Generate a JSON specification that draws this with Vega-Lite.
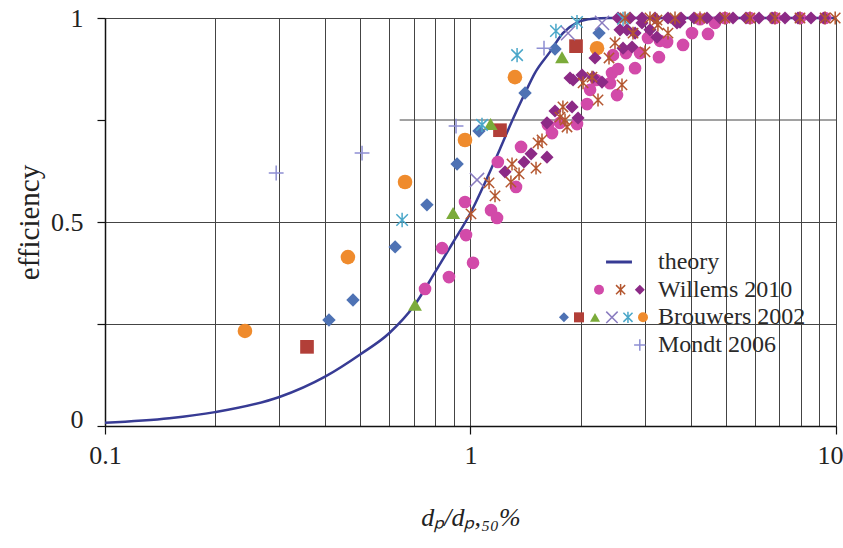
{
"$schema": "https://vega.github.io/schema/vega-lite/v6.json",
"width": 731, "height": 408,
"autosize": "none",
"padding": {"left": 105, "top": 18, "right": 7, "bottom": 122},
"background": "white",
"config": {"view": {"stroke": null}},
"datasets": {
"theory": [
{"x":0.1,"eff":0.008},{"x":0.15,"eff":0.019},{"x":0.2,"eff":0.034},{"x":0.3,"eff":0.071},{"x":0.4,"eff":0.121},{"x":0.5,"eff":0.176},{"x":0.6,"eff":0.228},{"x":0.7,"eff":0.294},{"x":0.8,"eff":0.377},{"x":0.9,"eff":0.453},{"x":1.0,"eff":0.522},{"x":1.1,"eff":0.6},{"x":1.2,"eff":0.676},{"x":1.3,"eff":0.748},{"x":1.41,"eff":0.816},{"x":1.5,"eff":0.865},{"x":1.65,"eff":0.917},{"x":1.79,"eff":0.963},{"x":1.95,"eff":0.988},{"x":2.16,"eff":0.998},{"x":2.4,"eff":1.0},{"x":3,"eff":1.0},{"x":10,"eff":1.0}
],
"gridrule": [{"x":0.64,"x2":10,"eff":0.75}],
"points": [
{"s":"B circle","x":0.2415,"eff":0.233},{"s":"B circle","x":0.462,"eff":0.414},{"s":"B circle","x":0.662,"eff":0.598},{"s":"B circle","x":0.966,"eff":0.701},{"s":"B circle","x":1.323,"eff":0.855},{"s":"B circle","x":2.219,"eff":0.926},
{"s":"B diamond","x":0.41,"eff":0.26},{"s":"B diamond","x":0.477,"eff":0.309},{"s":"B diamond","x":0.622,"eff":0.439},{"s":"B diamond","x":0.76,"eff":0.542},{"s":"B diamond","x":0.919,"eff":0.642},{"s":"B diamond","x":1.055,"eff":0.723},{"s":"B diamond","x":1.41,"eff":0.816},{"s":"B diamond","x":1.703,"eff":0.924},{"s":"B diamond","x":2.247,"eff":0.963},
{"s":"B square","x":0.357,"eff":0.194},{"s":"B square","x":1.204,"eff":0.725},{"s":"B square","x":1.944,"eff":0.931},
{"s":"B triangle","x":0.705,"eff":0.297},{"s":"B triangle","x":0.896,"eff":0.522},{"s":"B triangle","x":1.135,"eff":0.74},{"s":"B triangle","x":1.78,"eff":0.904},
{"s":"B cross","x":1.042,"eff":0.603},{"s":"B cross","x":1.849,"eff":0.963},{"s":"B cross","x":2.29,"eff":0.988},
{"s":"B asterisk","x":0.65,"eff":0.505},{"s":"B asterisk","x":1.075,"eff":0.738},{"s":"B asterisk","x":1.341,"eff":0.909},{"s":"B asterisk","x":1.713,"eff":0.968},{"s":"B asterisk","x":1.956,"eff":0.99},{"s":"B asterisk","x":2.614,"eff":0.998},
{"s":"M plus","x":0.294,"eff":0.62},{"s":"M plus","x":0.505,"eff":0.669},{"s":"M plus","x":0.913,"eff":0.735},{"s":"M plus","x":1.589,"eff":0.926},
{"s":"W circle","x":0.751,"eff":0.336},{"s":"W circle","x":0.836,"eff":0.436},{"s":"W circle","x":0.873,"eff":0.365},{"s":"W circle","x":0.972,"eff":0.468},{"s":"W circle","x":1.016,"eff":0.4},{"s":"W circle","x":0.966,"eff":0.549},{"s":"W circle","x":1.138,"eff":0.529},{"s":"W circle","x":1.182,"eff":0.51},{"s":"W circle","x":1.188,"eff":0.647},{"s":"W circle","x":1.332,"eff":0.586},{"s":"W circle","x":1.375,"eff":0.684},{"s":"W circle","x":1.671,"eff":0.718},{"s":"W circle","x":1.629,"eff":0.738},{"s":"W circle","x":1.757,"eff":0.743},{"s":"W circle","x":1.956,"eff":0.74},{"s":"W circle","x":2.084,"eff":0.789},{"s":"W circle","x":2.124,"eff":0.824},{"s":"W circle","x":2.205,"eff":0.848},{"s":"W circle","x":2.439,"eff":0.865},{"s":"W circle","x":2.533,"eff":0.875},{"s":"W circle","x":2.82,"eff":0.877},{"s":"W circle","x":2.454,"eff":0.909},{"s":"W circle","x":2.664,"eff":0.914},{"s":"W circle","x":2.909,"eff":0.914},{"s":"W circle","x":3.278,"eff":0.904},{"s":"W circle","x":3.059,"eff":0.951},{"s":"W circle","x":3.299,"eff":0.944},{"s":"W circle","x":3.45,"eff":0.941},{"s":"W circle","x":3.815,"eff":0.934},{"s":"W circle","x":4.036,"eff":0.963},{"s":"W circle","x":4.465,"eff":0.961},{"s":"W circle","x":4.666,"eff":0.988},{"s":"W circle","x":2.517,"eff":0.811},{"s":"W circle","x":2.408,"eff":0.84},{"s":"W circle","x":4.245,"eff":0.997},{"s":"W circle","x":4.97,"eff":1.0},{"s":"W circle","x":5.817,"eff":1.0},{"s":"W circle","x":6.809,"eff":1.0},{"s":"W circle","x":7.971,"eff":1.0},{"s":"W circle","x":9.335,"eff":1.0},
{"s":"W asterisk","x":1.003,"eff":0.52},{"s":"W asterisk","x":1.124,"eff":0.596},{"s":"W asterisk","x":1.167,"eff":0.564},{"s":"W asterisk","x":1.299,"eff":0.642},{"s":"W asterisk","x":1.29,"eff":0.598},{"s":"W asterisk","x":1.358,"eff":0.618},{"s":"W asterisk","x":1.511,"eff":0.632},{"s":"W asterisk","x":1.53,"eff":0.694},{"s":"W asterisk","x":1.569,"eff":0.701},{"s":"W asterisk","x":1.757,"eff":0.757},{"s":"W asterisk","x":1.814,"eff":0.75},{"s":"W asterisk","x":1.837,"eff":0.733},{"s":"W asterisk","x":1.79,"eff":0.782},{"s":"W asterisk","x":2.032,"eff":0.841},{"s":"W asterisk","x":2.15,"eff":0.855},{"s":"W asterisk","x":2.233,"eff":0.799},{"s":"W asterisk","x":2.597,"eff":0.836},{"s":"W asterisk","x":2.393,"eff":0.902},{"s":"W asterisk","x":2.485,"eff":0.939},{"s":"W asterisk","x":2.784,"eff":0.963},{"s":"W asterisk","x":3.002,"eff":0.917},{"s":"W asterisk","x":3.237,"eff":0.995},{"s":"W asterisk","x":3.47,"eff":0.963},{"s":"W asterisk","x":3.257,"eff":0.983},{"s":"W asterisk","x":2.647,"eff":1.0},{"s":"W asterisk","x":3.098,"eff":1.0},{"s":"W asterisk","x":3.627,"eff":1.0},{"s":"W asterisk","x":4.245,"eff":1.0},{"s":"W asterisk","x":4.97,"eff":1.0},{"s":"W asterisk","x":5.817,"eff":1.0},{"s":"W asterisk","x":6.809,"eff":1.0},{"s":"W asterisk","x":7.971,"eff":1.0},{"s":"W asterisk","x":9.335,"eff":1.0},{"s":"W asterisk","x":9.95,"eff":1.0},
{"s":"W diamond","x":1.243,"eff":0.623},{"s":"W diamond","x":1.401,"eff":0.647},{"s":"W diamond","x":1.465,"eff":0.667},{"s":"W diamond","x":1.619,"eff":0.659},{"s":"W diamond","x":1.619,"eff":0.743},{"s":"W diamond","x":1.703,"eff":0.772},{"s":"W diamond","x":1.896,"eff":0.782},{"s":"W diamond","x":1.969,"eff":0.755},{"s":"W diamond","x":1.908,"eff":0.848},{"s":"W diamond","x":2.019,"eff":0.86},{"s":"W diamond","x":2.164,"eff":0.855},{"s":"W diamond","x":2.29,"eff":0.843},{"s":"W diamond","x":2.191,"eff":0.902},{"s":"W diamond","x":1.872,"eff":0.853},{"s":"W diamond","x":2.565,"eff":0.971},{"s":"W diamond","x":2.681,"eff":0.971},{"s":"W diamond","x":2.614,"eff":0.926},{"s":"W diamond","x":2.767,"eff":0.929},{"s":"W diamond","x":2.82,"eff":0.963},{"s":"W diamond","x":3.098,"eff":0.971},{"s":"W diamond","x":3.237,"eff":0.953},{"s":"W diamond","x":3.743,"eff":0.99},{"s":"W diamond","x":2.946,"eff":0.988},{"s":"W diamond","x":3.673,"eff":0.988},{"s":"W diamond","x":2.533,"eff":1.0},{"s":"W diamond","x":2.732,"eff":1.0},{"s":"W diamond","x":2.946,"eff":1.0},{"s":"W diamond","x":3.197,"eff":1.0},{"s":"W diamond","x":3.47,"eff":1.0},{"s":"W diamond","x":3.766,"eff":1.0},{"s":"W diamond","x":4.088,"eff":1.0},{"s":"W diamond","x":4.437,"eff":1.0},{"s":"W diamond","x":4.815,"eff":1.0},{"s":"W diamond","x":5.227,"eff":1.0},{"s":"W diamond","x":5.673,"eff":1.0},{"s":"W diamond","x":6.158,"eff":1.0},{"s":"W diamond","x":6.682,"eff":1.0},{"s":"W diamond","x":7.253,"eff":1.0},{"s":"W diamond","x":7.871,"eff":1.0},{"s":"W diamond","x":8.543,"eff":1.0},{"s":"W diamond","x":9.273,"eff":1.0}
],
"legend": [
{"s":"W diamond","row":1,"slot":0.2},{"s":"W asterisk","row":1,"slot":1.4},{"s":"W circle","row":1,"slot":2.75},
{"s":"B circle","row":2,"slot":0},{"s":"B asterisk","row":2,"slot":0.94},{"s":"B cross","row":2,"slot":1.94},{"s":"B triangle","row":2,"slot":3},{"s":"B square","row":2,"slot":4},{"s":"B diamond","row":2,"slot":4.94},
{"s":"M plus","row":3,"slot":0.2}
],
"legendline": [{"row":0,"from":0.69,"to":2.31}],
"labels": [{"row":0,"label":"theory"},{"row":1,"label":"Willems 2010"},{"row":2,"label":"Brouwers 2002"},{"row":3,"label":"Mondt 2006"}]
},
"resolve": {"scale": {"x": "independent", "y": "independent"}, "axis": {"x": "independent", "y": "independent"}},
"layer": [
{
"data": {"name": "gridrule"},
"mark": {"type": "rule", "color": "#444", "strokeWidth": 1},
"encoding": {
"x": {"field": "x", "type": "quantitative", "scale": {"type": "log", "domain": [0.1, 10], "nice": false},
"axis": {
"orient": "bottom",
"values": [0.1,0.2,0.3,0.4,0.5,0.6,0.7,0.8,0.9,1,2,3,4,5,6,7,8,9,10],
"labelExpr": "datum.value == 0.1 ? '0.1' : datum.value == 1 ? '1' : datum.value == 10 ? '10' : ''",
"labelOverlap": false, "labelFlush": false,
"labelAlign": {"condition": {"test": "datum.value == 10", "value": "right"}, "value": "center"},
"labelOffset": {"condition": {"test": "datum.value == 10", "value": 7}, "value": 0},
"tickOpacity": {"condition": {"test": "datum.value == 0.1 || datum.value == 1 || datum.value == 10", "value": 1}, "value": 0},
"grid": true, "gridColor": "#444", "gridWidth": 1,
"domainColor": "#111", "domainWidth": 1.5,
"tickColor": "#111", "tickSize": 8, "tickWidth": 1.2,
"labelFont": "Liberation Serif", "labelFontSize": 26, "labelColor": "#222", "labelPadding": 8,
"title": "dₚ/dₚ,₅₀%", "titleFont": "Liberation Serif", "titleFontStyle": "italic", "titleFontWeight": "normal", "titleFontSize": 26, "titleColor": "#222", "titlePadding": 36
}},
"x2": {"field": "x2"},
"y": {"field": "eff", "type": "quantitative", "scale": {"domain": [0, 1], "nice": false, "zero": false},
"axis": {
"orient": "left",
"values": [0, 0.25, 0.5, 0.75, 1],
"labelExpr": "datum.value == 0 ? '0' : datum.value == 0.5 ? '0.5' : datum.value == 1 ? '1' : ''",
"labelOverlap": false, "labelFlush": false,
"labelOffset": {"condition": {"test": "datum.value == 0", "value": -7}, "value": 0},
"grid": true, "gridColor": "#444", "gridWidth": 1,
"gridOpacity": {"condition": {"test": "datum.value == 0.75", "value": 0}, "value": 1},
"domainColor": "#111", "domainWidth": 1.5,
"tickColor": "#111", "tickSize": 8, "tickWidth": 1.2,
"labelFont": "Liberation Serif", "labelFontSize": 26, "labelColor": "#222", "labelPadding": 14,
"title": "efficiency", "titleFont": "Liberation Serif", "titleFontWeight": "normal", "titleFontSize": 29, "titleColor": "#222", "titlePadding": 6
}}
}
},
{
"data": {"name": "theory"},
"mark": {"type": "line", "color": "#373b94", "strokeWidth": 2.5, "interpolate": "monotone"},
"encoding": {
"x": {"field": "x", "type": "quantitative", "scale": {"type": "log", "domain": [0.1, 10], "nice": false}, "axis": null},
"y": {"field": "eff", "type": "quantitative", "scale": {"domain": [0, 1], "nice": false, "zero": false}, "axis": null}
}
},
{
"data": {"name": "points"},
"transform": [{"filter": {"field": "s", "oneOf": ["W circle", "W diamond", "B diamond", "B square", "B triangle", "B circle"]}}],
"mark": {"type": "point", "filled": true, "opacity": 1},
"encoding": {
"x": {"field": "x", "type": "quantitative", "scale": {"type": "log", "domain": [0.1, 10], "nice": false}, "axis": null},
"y": {"field": "eff", "type": "quantitative", "scale": {"domain": [0, 1], "nice": false, "zero": false}, "axis": null},
"color": {"field": "s", "type": "nominal", "legend": null,
"scale": {"domain": ["W circle","W asterisk","W diamond","B diamond","B square","B triangle","B cross","B asterisk","B circle","M plus"],
"range": ["#d24aa9","#b4562f","#8c2a86","#4e72b4","#b23f38","#7bab3a","#8a7cc0","#4aa7c9","#ef8b2d","#8e8fd3"]}},
"shape": {"field": "s", "type": "nominal", "legend": null,
"scale": {"domain": ["W circle","W asterisk","W diamond","B diamond","B square","B triangle","B cross","B asterisk","B circle","M plus"],
"range": ["circle","M-0.8,-0.8L0.8,0.8M-0.8,0.8L0.8,-0.8M0,-1L0,1","diamond","diamond","square","triangle-up","M-1,-1L1,1M-1,1L1,-1","M-0.8,-0.8L0.8,0.8M-0.8,0.8L0.8,-0.8M0,-1L0,1","circle","M-1,0L1,0M0,-1L0,1"]}},
"size": {"field": "s", "type": "nominal", "legend": null,
"scale": {"domain": ["W circle","W asterisk","W diamond","B diamond","B square","B triangle","B cross","B asterisk","B circle","M plus"],
"range": [160, 220, 170, 160, 140, 160, 130, 200, 170, 140]}}
}
},
{
"data": {"name": "points"},
"transform": [{"filter": {"field": "s", "oneOf": ["W asterisk", "B cross", "B asterisk", "M plus"]}}],
"mark": {"type": "point", "filled": false, "opacity": 1, "strokeWidth": 1.5},
"encoding": {
"x": {"field": "x", "type": "quantitative", "scale": {"type": "log", "domain": [0.1, 10], "nice": false}, "axis": null},
"y": {"field": "eff", "type": "quantitative", "scale": {"domain": [0, 1], "nice": false, "zero": false}, "axis": null},
"color": {"field": "s", "type": "nominal", "legend": null},
"shape": {"field": "s", "type": "nominal", "legend": null},
"size": {"field": "s", "type": "nominal", "legend": null}
}
},
{
"layer": [
{
"data": {"name": "legendline"},
"mark": {"type": "rule", "color": "#373b94", "strokeWidth": 3},
"encoding": {
"x": {"field": "from", "type": "quantitative", "scale": {"domain": [0, 10], "range": [538, 378]}, "axis": null},
"x2": {"field": "to"},
"y": {"field": "row", "type": "quantitative", "scale": {"domain": [0, 3], "range": [244, 327]}, "axis": null}
}
},
{
"data": {"name": "legend"},
"transform": [{"filter": {"field": "s", "oneOf": ["W circle", "W diamond", "B diamond", "B square", "B triangle", "B circle"]}}],
"mark": {"type": "point", "filled": true, "opacity": 1, "size": 100},
"encoding": {
"x": {"field": "slot", "type": "quantitative", "axis": null},
"y": {"field": "row", "type": "quantitative", "axis": null},
"color": {"field": "s", "type": "nominal", "legend": null},
"shape": {"field": "s", "type": "nominal", "legend": null}
}
},
{
"data": {"name": "legend"},
"transform": [{"filter": {"field": "s", "oneOf": ["W asterisk", "B cross", "B asterisk", "M plus"]}}],
"mark": {"type": "point", "filled": false, "opacity": 1, "size": 130, "strokeWidth": 1.5},
"encoding": {
"x": {"field": "slot", "type": "quantitative", "axis": null},
"y": {"field": "row", "type": "quantitative", "axis": null},
"color": {"field": "s", "type": "nominal", "legend": null},
"shape": {"field": "s", "type": "nominal", "legend": null}
}
},
{
"data": {"name": "labels"},
"mark": {"type": "text", "align": "left", "baseline": "middle", "dx": 15, "font": "Liberation Serif", "fontSize": 24, "color": "#2a2a2a"},
"encoding": {
"x": {"datum": 0, "type": "quantitative", "axis": null},
"y": {"field": "row", "type": "quantitative", "axis": null},
"text": {"field": "label"}
}
}
]
}
]
}
